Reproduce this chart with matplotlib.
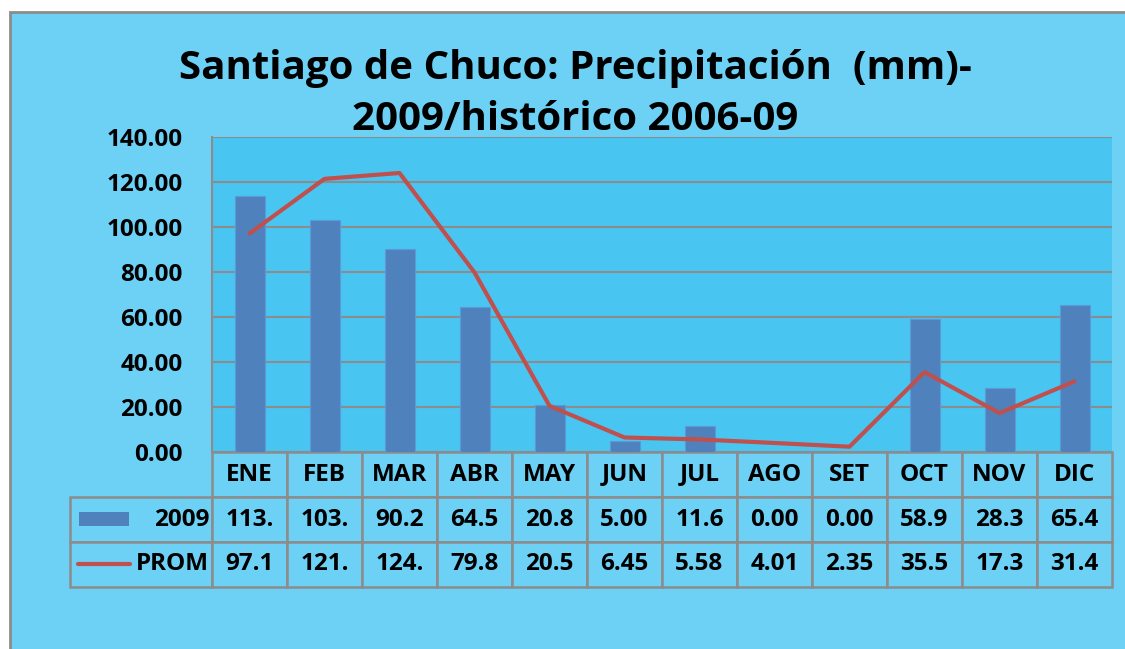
import matplotlib.pyplot as plt
from matplotlib.patches import Rectangle
from matplotlib.lines import Line2D

plt.rcParams['font.family'] = ['Open Sans', 'DejaVu Sans']

meses = ["ENE", "FEB", "MAR", "ABR", "MAY", "JUN", "JUL", "AGO", "SET", "OCT", "NOV", "DIC"]
lluvia_2009 = [113.8, 103.2, 90.2, 64.5, 20.8, 5.00, 11.6, 0.00, 0.00, 58.9, 28.3, 65.4]
prom = [97.1, 121.4, 124.0, 79.8, 20.5, 6.45, 5.58, 4.01, 2.35, 35.5, 17.3, 31.4]
series = ["2009", "PROM"]

BG = "#6DD0F5"
PLOT_BG = "#49C5F2"
GRIS = "#8C8C8C"
AZUL = "#4F81BD"
ROJO = "#C0504D"

W, H = 1125, 649
fig = plt.figure(figsize=(W / 100, H / 100), dpi=100, facecolor="white")
fig.patches.append(Rectangle((10 / W, -0.01), 1.02, 1 - 12 / H + 0.01, transform=fig.transFigure,
                             facecolor=BG, edgecolor=GRIS, linewidth=2, zorder=-10))

ax = fig.add_axes([212 / W, 1 - 452 / H, 900 / W, 315 / H])
ax.set_facecolor(PLOT_BG)

x = list(range(len(meses)))
ax.bar(x, lluvia_2009, width=0.4, color=AZUL, edgecolor="#5A9AD6", linewidth=0.8, zorder=2)
ax.plot(x, prom, color=ROJO, linewidth=3, solid_capstyle="round", zorder=3)

ax.set_xlim(-0.5, len(meses) - 0.5)
ax.set_ylim(0, 140)
ax.set_yticks(range(0, 141, 20))
ax.set_yticklabels([f"{v:.2f}" for v in range(0, 141, 20)], fontsize=17.5, fontweight="bold")
ax.tick_params(axis="y", length=0, pad=21)
ax.set_xticks([])
ax.yaxis.grid(True, color=GRIS, linewidth=1.5, zorder=1)
ax.set_axisbelow(True)
for s in ["top", "right", "bottom"]:
    ax.spines[s].set_visible(False)
ax.spines["left"].set_color(GRIS)
ax.spines["left"].set_linewidth(1.5)

# tabla de datos
fila1 = [f"{v:.2f}"[:4] for v in lluvia_2009]
fila2 = [f"{v:.2f}"[:4] for v in prom]
celdas = [[""] + meses, [series[0]] + fila1, [series[1]] + fila2]
lab_w = 142 / 900
tab = ax.table(cellText=celdas, colWidths=[lab_w] + [1 / 12] * 12, cellLoc="center",
               bbox=[-lab_w, -135 / 315, 1 + lab_w, 135 / 315])
tab.auto_set_font_size(False)
for (r, c), cell in tab.get_celld().items():
    cell.set_facecolor(BG)
    cell.set_edgecolor(GRIS)
    cell.set_linewidth(1.8)
    cell.get_text().set_fontsize(17.5)
    cell.get_text().set_fontweight("bold")
    if r == 0 and c == 0:
        cell.visible_edges = ""
        cell.set_facecolor("none")
    if c == 0 and r > 0:
        cell.get_text().set_ha("right")
        cell._loc = "right"
        cell.PAD = 0.02

# claves de leyenda dentro de la tabla
fig.patches.append(Rectangle((79 / W, 1 - 526 / H), 50 / W, 14 / H, transform=fig.transFigure,
                             facecolor=AZUL, edgecolor="none", zorder=5))
fig.lines.append(Line2D([78 / W, 130 / W], [1 - 564 / H, 1 - 564 / H], transform=fig.transFigure,
                        color=ROJO, linewidth=3, solid_capstyle="round", zorder=5))

fig.text(575 / W, 1 - 94 / H, "Santiago de Chuco: Precipitación  (mm)-\n2009/histórico 2006-09",
         ha="center", va="center", fontsize=29, fontweight="bold", linespacing=1.4)

fig.savefig("out.png", dpi=100, facecolor="white")
